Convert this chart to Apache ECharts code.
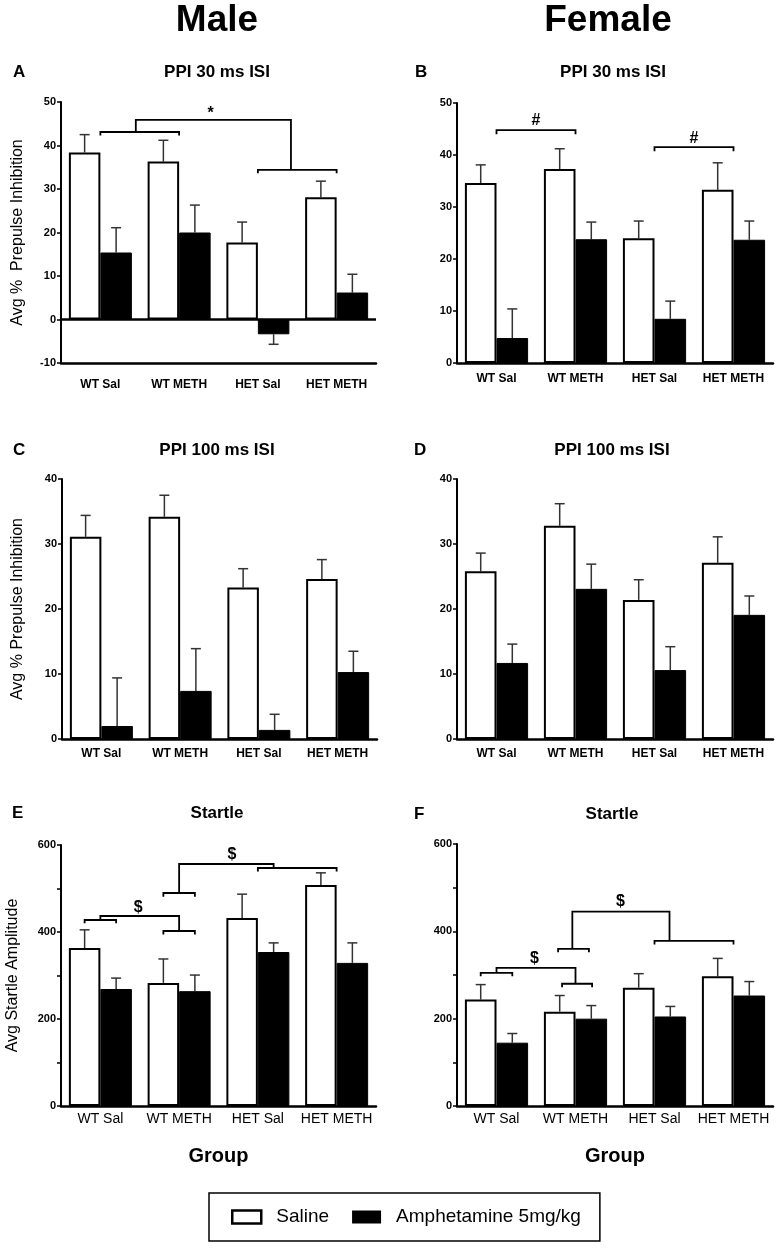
<!DOCTYPE html>
<html>
<head>
<meta charset="utf-8">
<script src="https://cdn.jsdelivr.net/npm/echarts@6.0.0/dist/echarts.min.js"></script>
<style>
  html, body { margin: 0; padding: 0; background: #fff; }
  #chart { width: 776px; height: 1248px; }
</style>
</head>
<body>
<div id="chart"></div>
<script>
// ---------------- DATA ----------------
const categories = ['WT Sal', 'WT METH', 'HET Sal', 'HET METH'];
const seriesNames = ['Saline', 'Amphetamine 5mg/kg'];

// A: Male, PPI 30 ms ISI
const salineA = [38.4, 36.3, 17.7, 28.1];
const salineSemA = [4.1, 4.9, 4.7, 3.7];
const amphA = [15.4, 20.0, -3.4, 6.2];
const amphSemA = [5.7, 6.3, 2.3, 4.2];
// B: Female, PPI 30 ms ISI
const salineB = [34.6, 37.3, 24.0, 33.3];
const salineSemB = [3.5, 3.9, 3.3, 5.2];
const amphB = [4.8, 23.8, 8.5, 23.7];
const amphSemB = [5.6, 3.3, 3.4, 3.6];
// C: Male, PPI 100 ms ISI
const salineC = [31.1, 34.2, 23.3, 24.6];
const salineSemC = [3.3, 3.3, 2.9, 3.0];
const amphC = [2.0, 7.4, 1.4, 10.3];
const amphSemC = [7.4, 6.5, 2.4, 3.2];
// D: Female, PPI 100 ms ISI
const salineD = [25.8, 32.8, 21.4, 27.1];
const salineSemD = [2.8, 3.4, 3.1, 4.0];
const amphD = [11.7, 23.1, 10.6, 19.1];
const amphSemD = [2.9, 3.8, 3.6, 2.9];
// E: Male, Startle
const salineE = [363, 283, 432, 508];
const salineSemE = [42, 55, 55, 28];
const amphE = [269, 264, 354, 329];
const amphSemE = [25, 37, 21, 46];
// F: Female, Startle
const salineF = [244, 216, 271, 297];
const salineSemF = [34, 37, 32, 41];
const amphF = [145, 200, 205, 253];
const amphSemF = [21, 30, 23, 32];

// Axis ranges / ticks
const yTicksA = [-10, 50, 10];
const yTicksB = [0, 50, 10];
const yTicksCD = [0, 40, 10];
const yTicksEF = [0, 600, 100];

// Significance brackets (polylines in data units: x = category index, y = value)
const bracketsA = [
  [[0, 42.3], [0, 43.1], [1, 43.1], [1, 42.3]],
  [[2, 33.6], [2, 34.4], [3, 34.4], [3, 33.6]],
  [[0.45, 43.1], [0.45, 45.9], [2.42, 45.9], [2.42, 34.4]]
];
const marksA = [[1.4, 47.4, '*']];
const bracketsB = [
  [[0, 44.0], [0, 44.8], [1, 44.8], [1, 44.0]],
  [[2, 40.7], [2, 41.5], [3, 41.5], [3, 40.7]]
];
const marksB = [[0.5, 46.7, '#'], [2.5, 43.1, '#']];
const bracketsE = [
  [[-0.2, 420], [-0.2, 427.6], [0.2, 427.6], [0.2, 420]],
  [[0, 427.6], [0, 436.8], [1.0, 436.8], [1.0, 402.3]],
  [[0.8, 394], [0.8, 402.3], [1.2, 402.3], [1.2, 394]],
  [[0.8, 481], [0.8, 489.7], [1.2, 489.7], [1.2, 481]],
  [[1.0, 489.7], [1.0, 556.3], [2.2, 556.3], [2.2, 547.1]],
  [[2, 539], [2, 547.1], [3, 547.1], [3, 539]]
];
const marksE = [[0.48, 457, '$'], [1.67, 577, '$']];
const bracketsF = [
  [[-0.2, 297], [-0.2, 305], [0.2, 305], [0.2, 297]],
  [[0, 305], [0, 316.5], [1.0, 316.5], [1.0, 280]],
  [[0.83, 272], [0.83, 280], [1.21, 280], [1.21, 272]],
  [[0.78, 352], [0.78, 360], [1.17, 360], [1.17, 352]],
  [[0.96, 360], [0.96, 445], [2.19, 445], [2.19, 378]],
  [[2, 370], [2, 378], [3, 378], [3, 370]]
];
const marksF = [[0.48, 337, '$'], [1.57, 468, '$']];

// ---------------- LAYOUT / STYLE ----------------
const FONT = "'Liberation Sans', Arial, Helvetica, sans-serif";

const panels = [
  { sal: salineA, salSem: salineSemA, amph: amphA, amphSem: amphSemA, ticks: yTicksA,
    brackets: bracketsA, marks: marksA, zeroLine: true,
    grid: { left: 61, top: 102, width: 315, height: 261 }, labelMargin: 16,
    xFont: [12, 'bold'],
    yName: 'Avg %  Prepulse Inhibition', yNameGap: 35 },
  { sal: salineB, salSem: salineSemB, amph: amphB, amphSem: amphSemB, ticks: yTicksB,
    brackets: bracketsB, marks: marksB,
    grid: { left: 457, top: 103, width: 316, height: 260 }, labelMargin: 10,
    xFont: [12, 'bold'] },
  { sal: salineC, salSem: salineSemC, amph: amphC, amphSem: amphSemC, ticks: yTicksCD,
    brackets: [], marks: [],
    grid: { left: 62, top: 479, width: 315, height: 260 }, labelMargin: 9,
    xFont: [12, 'bold'],
    yName: 'Avg % Prepulse Inhibition', yNameGap: 36 },
  { sal: salineD, salSem: salineSemD, amph: amphD, amphSem: amphSemD, ticks: yTicksCD,
    brackets: [], marks: [],
    grid: { left: 457, top: 479, width: 316, height: 260 }, labelMargin: 9,
    xFont: [12, 'bold'] },
  { sal: salineE, salSem: salineSemE, amph: amphE, amphSem: amphSemE, ticks: yTicksEF,
    brackets: bracketsE, marks: marksE, everyOther: true,
    grid: { left: 61, top: 845, width: 315, height: 261 }, labelMargin: 6,
    xFont: [14, 'normal'],
    yName: 'Avg Startle Amplitude', yNameGap: 40, xName: 'Group' },
  { sal: salineF, salSem: salineSemF, amph: amphF, amphSem: amphSemF, ticks: yTicksEF,
    brackets: bracketsF, marks: marksF, everyOther: true,
    grid: { left: 457, top: 844, width: 316, height: 262 }, labelMargin: 6,
    xFont: [14, 'normal'],
    xName: 'Group' }
];

const grid = [], xAxis = [], yAxis = [], series = [];

function errorSeries(i, means, sems, offset) {
  return {
    type: 'custom', xAxisIndex: 2 * i + 1, yAxisIndex: i, z: 1, silent: true,
    data: means.map((m, k) => [k + offset, m, m + (m < 0 ? -sems[k] : sems[k])]),
    encode: { x: 0, y: [1, 2] },
    renderItem: function (params, api) {
      const p0 = api.coord([api.value(0), api.value(1)]);
      const p1 = api.coord([api.value(0), api.value(2)]);
      const st = { stroke: '#333', lineWidth: 1.5 };
      return { type: 'group', children: [
        { type: 'line', shape: { x1: p0[0], y1: p0[1], x2: p1[0], y2: p1[1] }, style: st },
        { type: 'line', shape: { x1: p1[0] - 5, y1: p1[1], x2: p1[0] + 5, y2: p1[1] }, style: st }
      ] };
    }
  };
}

panels.forEach(function (p, i) {
  grid.push(Object.assign({ containLabel: false }, p.grid));
  xAxis.push({
    type: 'category', gridIndex: i, data: categories,
    axisLine: { onZero: false, lineStyle: { color: '#000', width: 2.5 } },
    axisTick: { show: false },
    axisLabel: { color: '#000', fontSize: p.xFont[0], fontWeight: p.xFont[1], fontFamily: FONT,
      margin: p.labelMargin, interval: 0, hideOverlap: false },
    name: p.xName || '', nameLocation: 'middle', nameGap: 40,
    nameTextStyle: { fontSize: 20, fontWeight: 'bold', fontFamily: FONT, color: '#000' }
  });
  xAxis.push({ type: 'value', gridIndex: i, min: -0.5, max: 3.5, show: false });
  yAxis.push({
    type: 'value', gridIndex: i, min: p.ticks[0], max: p.ticks[1], interval: p.ticks[2],
    axisLine: { show: true, onZero: false, lineStyle: { color: '#000', width: 2 } },
    axisTick: { show: true, length: 4, lineStyle: { color: '#000', width: 1.5 } },
    splitLine: { show: false },
    axisLabel: {
      color: '#000', fontSize: 11, fontWeight: 'bold', fontFamily: FONT, margin: 5,
      formatter: p.everyOther ? function (v) { return v % 200 === 0 ? String(v) : ''; } : null
    },
    name: p.yName || '', nameLocation: 'middle', nameRotate: 90, nameGap: p.yNameGap || 35,
    nameTextStyle: { fontSize: 16, fontFamily: FONT, color: '#000' }
  });

  const salSeries = {
    type: 'bar', name: seriesNames[0], xAxisIndex: 2 * i, yAxisIndex: i, data: p.sal,
    barGap: '0%', barCategoryGap: '20%', z: 3,
    itemStyle: { color: '#fff', borderColor: '#000', borderWidth: 2 }
  };
  if (p.zeroLine) {
    salSeries.markLine = {
      silent: true, symbol: 'none', label: { show: false },
      lineStyle: { color: '#000', width: 2.5, type: 'solid' },
      data: [{ yAxis: 0 }]
    };
  }
  series.push(salSeries);
  series.push({
    type: 'bar', name: seriesNames[1], xAxisIndex: 2 * i, yAxisIndex: i, data: p.amph,
    barGap: '0%', barCategoryGap: '20%', z: 3,
    itemStyle: { color: '#000', borderColor: '#000', borderWidth: 1 }
  });
  series.push(errorSeries(i, p.sal, p.salSem, -0.2));
  series.push(errorSeries(i, p.amph, p.amphSem, 0.2));

  if (p.brackets.length) {
    const br = p.brackets;
    series.push({
      type: 'custom', xAxisIndex: 2 * i + 1, yAxisIndex: i, z: 4, silent: true,
      data: br.map((b, k) => [b[0][0], b[0][1], k]),
      encode: { x: 0, y: 1 },
      renderItem: function (params, api) {
        const pts = br[api.value(2)].map(pt => api.coord(pt));
        return { type: 'polyline', shape: { points: pts },
          style: { stroke: '#000', lineWidth: 1.8, fill: null } };
      }
    });
  }
  if (p.marks.length) {
    const mk = p.marks;
    series.push({
      type: 'custom', xAxisIndex: 2 * i + 1, yAxisIndex: i, z: 4, silent: true,
      data: mk.map((m, k) => [m[0], m[1], k]),
      encode: { x: 0, y: 1 },
      renderItem: function (params, api) {
        const c = api.coord([api.value(0), api.value(1)]);
        return { type: 'text', x: c[0], y: c[1],
          style: { text: mk[api.value(2)][2], font: 'bold 16px ' + FONT, fill: '#000',
            align: 'center', verticalAlign: 'middle' } };
      }
    });
  }
});

function label(text, x, y, size, align) {
  return { type: 'text', x: x, y: y, silent: true,
    style: { text: text, font: 'bold ' + size + 'px ' + FONT, fill: '#000',
      align: align || 'center', verticalAlign: 'middle' } };
}

const graphic = [
  label('Male', 217, 21, 37),
  label('Female', 608, 21, 37),
  label('A', 13, 72, 17, 'left'),
  label('PPI 30 ms ISI', 217, 72, 17),
  label('B', 415, 72, 17, 'left'),
  label('PPI 30 ms ISI', 613, 72, 17),
  label('C', 13, 450, 17, 'left'),
  label('PPI 100 ms ISI', 217, 450, 17),
  label('D', 414, 450, 17, 'left'),
  label('PPI 100 ms ISI', 612, 450, 17),
  label('E', 12, 813, 17, 'left'),
  label('Startle', 217, 813, 17),
  label('F', 414, 814, 17, 'left'),
  label('Startle', 612, 814, 17)
];

const chart = echarts.init(document.getElementById('chart'), null, { renderer: 'canvas' });
chart.setOption({
  animation: false,
  backgroundColor: '#fff',
  textStyle: { fontFamily: FONT },
  grid: grid, xAxis: xAxis, yAxis: yAxis, series: series, graphic: graphic,
  legend: {
    left: 209, top: 1193, orient: 'horizontal', selectedMode: false,
    itemWidth: 29, itemHeight: 13, itemGap: 23, icon: 'rect',
    padding: [13, 19, 13, 22], borderColor: '#000', borderWidth: 1.5,
    textStyle: { fontSize: 19, fontFamily: FONT, color: '#000', lineHeight: 22, padding: [0, 0, 0, 10] },
    data: [
      { name: seriesNames[0], itemStyle: { color: '#fff', borderColor: '#000', borderWidth: 2.5 } },
      { name: seriesNames[1], itemStyle: { color: '#000', borderColor: '#000', borderWidth: 0 } }
    ]
  }
});
</script>
</body>
</html>
